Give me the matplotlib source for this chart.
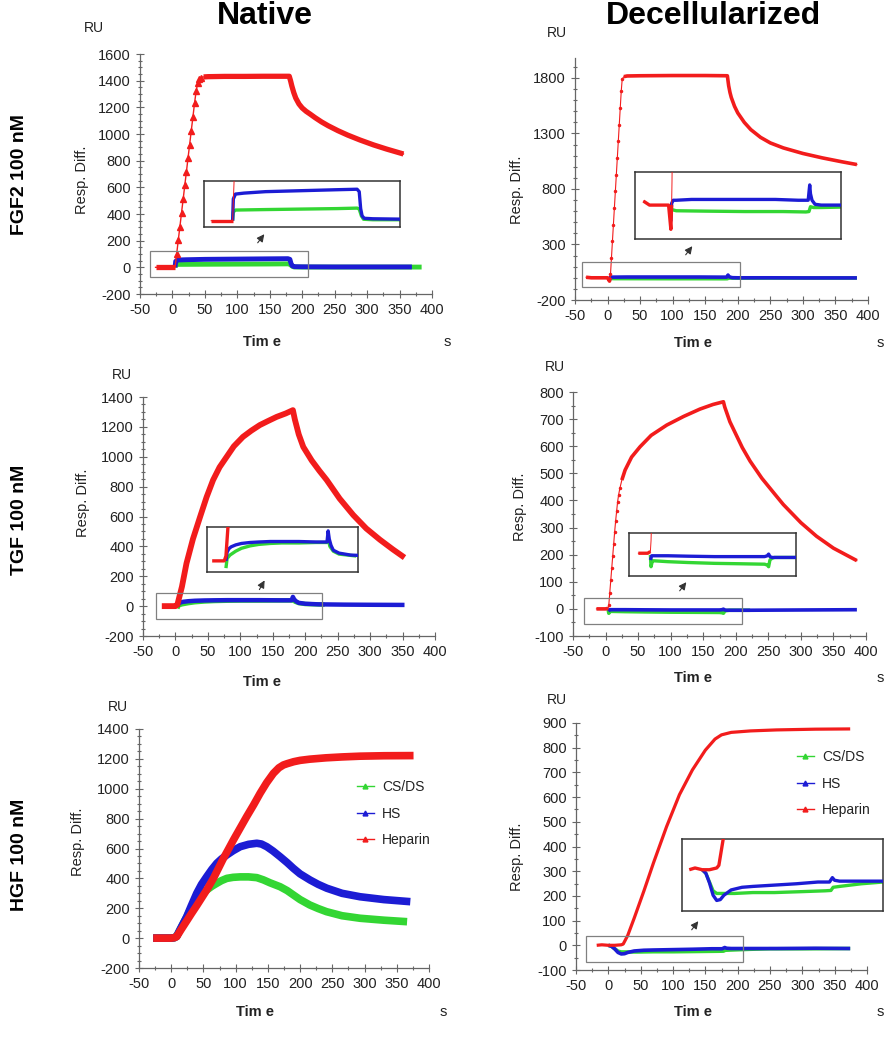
import numpy as np
import matplotlib.pyplot as plt
from matplotlib.patches import Rectangle, FancyArrowPatch
from matplotlib.lines import Line2D
from matplotlib.ticker import MultipleLocator

plt.rcParams['font.family'] = ['Liberation Sans', 'DejaVu Sans']
plt.rcParams['axes.unicode_minus'] = False

W, H = 893, 1050
GREEN, BLUE, RED = '#33d633', '#1c1cd4', '#f21c1c'
labels = ['CS/DS', 'HS', 'Heparin']
row_labels = ['FGF2 100 nM', 'TGF 100 nM', 'HGF 100 nM']
col_titles = ['Native', 'Decellularized']

# ---- FGF2, native ----
fgf_nat_hep_t = [-26, -20, -15, -10, -5, 0, 4, 6.5, 9, 11.5, 14, 16.5, 19, 21.5, 24, 26.5, 29, 31.5, 34,
                 36.5, 39, 41.5, 44, 48, 55, 80, 110, 140, 170, 180, 182, 184, 187, 190, 195, 200, 206,
                 212, 220, 230, 240, 255, 270, 289, 310, 330, 356]
fgf_nat_hep_v = [0, 0, 0, 0, 0, 0, 0, 100, 205, 305, 410, 510, 615, 715, 820, 920, 1025, 1125, 1230,
                 1320, 1385, 1410, 1422, 1428, 1430, 1432, 1432, 1433, 1433, 1433, 1400, 1360, 1310, 1270,
                 1225, 1195, 1170, 1150, 1122, 1090, 1062, 1025, 992, 955, 918, 887, 850]
fgf_nat_hs_t = [4, 5, 8, 20, 50, 100, 150, 178, 181, 183, 185, 188, 200, 250, 300, 369]
fgf_nat_hs_v = [0, 45, 55, 57, 60, 62, 64, 65, 60, 25, 10, 5, 4, 3, 3, 3]
fgf_nat_cs_t = [4, 5, 8, 50, 100, 150, 178, 181, 184, 187, 200, 300, 384]
fgf_nat_cs_v = [0, 18, 22, 23, 24, 25, 26, 24, 10, 3, 2, 2, 2]

# ---- FGF2, decellularized ----
fgf_dec_hep_t = [-33, -25, -15, -5, 0, 3, 4, 4.5, 6, 7.5, 9, 10.5, 12, 13.5, 15, 16.5, 18, 19.5, 21, 22.5,
                 25, 30, 50, 100, 150, 184, 186, 188, 190, 195, 200, 210, 220, 235, 250, 270, 300, 330,
                 360, 383]
fgf_dec_hep_v = [5, 0, 0, 0, 0, -30, 0, 30, 180, 330, 480, 630, 780, 930, 1080, 1230, 1380, 1530, 1680,
                 1790, 1812, 1818, 1820, 1822, 1822, 1820, 1730, 1670, 1625, 1545, 1485, 1400, 1335, 1265,
                 1215, 1170, 1120, 1080, 1045, 1020]
fgf_dec_hs_t = [3, 4, 6, 10, 30, 60, 100, 140, 170, 183, 185, 186, 188, 192, 200, 250, 300, 383]
fgf_dec_hs_v = [-20, 2, 6, 6, 7, 7, 7, 7, 6, 6, 25, 14, 6, 1, 0, 0, -1, -1]
fgf_dec_cs_t = [3, 4, 6, 10, 50, 100, 150, 180, 184, 186, 190, 200, 250, 300, 383]
fgf_dec_cs_v = [-5, -6, -6, -7, -7.5, -8, -8, -8.5, -8, -2, -3, -3, -2, -2, -2]

# ---- TGF, native ----
tgf_nat_hep_t = [-21, -10, 0, 3, 10, 17, 27, 38, 48, 58, 68, 79, 90, 104, 117, 130, 143, 156, 170, 181,
                 184, 190, 197, 210, 222, 233, 253, 274, 294, 315, 335, 353]
tgf_nat_hep_v = [0, 0, 0, 10, 130, 286, 450, 598, 730, 844, 930, 1000, 1070, 1133, 1175, 1212, 1240,
                 1267, 1290, 1312, 1250, 1150, 1066, 975, 905, 845, 720, 610, 520, 445, 380, 325]
tgf_nat_hs_t = [3, 5, 8, 12, 20, 30, 45, 60, 80, 100, 130, 160, 179, 181, 183, 186, 190, 200, 220, 260,
                300, 353]
tgf_nat_hs_v = [0, 18, 25, 29, 33, 36, 38, 39, 40, 40, 40, 39, 39, 62, 45, 32, 22, 16, 12, 10, 9, 8]
tgf_nat_cs_t = [3, 5, 10, 20, 30, 45, 60, 80, 100, 130, 160, 179, 181, 184, 190, 200, 230]
tgf_nat_cs_v = [-15, 5, 12, 20, 26, 31, 34, 36, 37, 37, 38, 38, 45, 30, 20, 14, 10]

# ---- TGF, decellularized ----
tgf_dec_hep_t = [-14, -5, 0, 4, 5, 6.5, 8, 9.5, 11, 12.5, 14, 15.5, 17, 18.5, 20, 22, 25, 30, 40, 53, 70,
                 94, 120, 145, 165, 181, 183, 191, 200, 210, 222, 240, 260, 273, 300, 324, 350, 386]
tgf_dec_hep_v = [0, 0, 0, 2, 15, 60, 105, 150, 195, 240, 285, 325, 360, 395, 420, 445, 475, 512, 560,
                 598, 640, 678, 710, 737, 754, 764, 745, 690, 645, 595, 545, 482, 423, 385, 318, 268, 224,
                 178]
tgf_dec_hs_t = [4, 6, 10, 30, 60, 100, 140, 175, 179, 181, 183, 186, 190, 220, 300, 386]
tgf_dec_hs_v = [-8, -3, -3, -3, -3.5, -4, -4, -4, -3, -1, -4, -5, -5, -5, -4, -3]
tgf_dec_cs_t = [4, 5, 7, 10, 30, 60, 100, 140, 175, 179, 181, 183, 186, 190, 200, 222]
tgf_dec_cs_v = [-2, -16, -9, -9, -10, -11, -12, -12.5, -13, -14, -16, -8, -6, -5, -5, -5]

# ---- HGF, native ----
hgf_nat_hep_t = [-28, -15, 0, 5, 8.5, 15, 24, 31, 39.6, 47, 55, 65.5, 73, 81, 89, 96.5, 107, 117, 128,
                 138, 148, 158.5, 167, 174, 180, 190, 200, 215, 240, 265, 293, 330, 376]
hgf_nat_hep_v = [0, 0, 0, 3, 10, 55, 115, 162, 218, 268, 322, 400, 465, 534, 597, 657, 737, 813, 893,
                 970, 1040, 1103, 1140, 1159, 1168, 1181, 1190, 1198, 1207, 1213, 1218, 1221, 1222]
hgf_nat_hs_t = [-28, -15, 0, 5, 8.5, 14, 24, 31, 39.6, 47, 55, 63, 70.7, 78, 86.3, 96, 107, 120, 132.8,
                140, 148.3, 158, 169, 180, 189.6, 200, 215.5, 228, 241.5, 265, 293, 330, 371]
hgf_nat_hs_v = [0, 0, 0, 3, 12, 60, 143, 215, 300, 360, 411, 460, 501, 530, 557, 585, 612, 628, 635,
                630, 612, 583, 545, 505, 467, 430, 389, 360, 334, 300, 277, 258, 244]
hgf_nat_cs_t = [-28, -15, 0, 5, 8.5, 14, 24, 31, 39.6, 47, 55, 63, 70.7, 78, 86.3, 96, 107, 120, 132.8,
                143, 153.5, 169, 180, 189.6, 200, 215, 228, 241, 265, 293, 330, 366]
hgf_nat_cs_v = [0, 0, 0, 3, 12, 58, 140, 200, 260, 295, 322, 347, 367, 385, 400, 407, 410, 410, 405,
                390, 370, 344, 318, 289, 258, 222, 198, 177, 150, 133, 120, 110]

# ---- HGF, decellularized ----
hgf_dec_hep_t = [-18, -10, 0, 10, 20, 23, 30, 40, 55, 70, 90, 110, 130, 150, 165, 175, 190, 220, 260,
                 320, 374]
hgf_dec_hep_v = [0, 2, 0, 0, 2, 5, 40, 110, 220, 335, 480, 610, 710, 790, 835, 852, 862, 868, 872, 875,
                 876]
hgf_dec_hs_t = [0, 5, 10, 15, 20, 25, 30, 40, 55, 70, 90, 110, 130, 160, 176, 180, 183, 190, 220, 260,
                320, 374]
hgf_dec_hs_v = [0, -4, -15, -29, -35, -34, -29, -23, -20, -19, -18, -17, -16, -14, -14, -9, -12, -13, -13,
                -13, -12, -13]
hgf_dec_cs_t = [0, 5, 10, 15, 20, 25, 30, 45, 70, 100, 136, 170, 178, 181, 190, 220, 250, 300, 374]
hgf_dec_cs_v = [0, -4, -14, -24, -27, -27, -27, -27, -26, -26, -25, -24, -23.6, -20, -19, -16, -14, -14,
                -13]

fig = plt.figure(figsize=(W / 100, H / 100), dpi=100)


def box(x0, x1, ytop, ybot):
    return [x0 / W, 1 - ybot / H, (x1 - x0) / W, (ybot - ytop) / H]


def ftext(x, y, s, **kw):
    fig.text(x / W, 1 - y / H, s, ha=kw.pop('ha', 'center'), va=kw.pop('va', 'center'), **kw)


def main_axes(x0, x1, ytop, ybot, ylim, yticks, yminor):
    ax = fig.add_axes(box(x0, x1, ytop, ybot))
    ax.set_xlim(-50, 400)
    ax.set_ylim(ylim)
    ax.set_xticks(range(-50, 401, 50))
    ax.set_yticks(yticks)
    ax.xaxis.set_minor_locator(MultipleLocator(25))
    ax.yaxis.set_minor_locator(MultipleLocator(yminor))
    for s in ['top', 'right']:
        ax.spines[s].set_visible(False)
    for s in ['left', 'bottom']:
        ax.spines[s].set_color('#666')
        ax.spines[s].set_linewidth(0.9)
    ax.tick_params(which='both', direction='inout', color='#666', labelsize=10.5, labelcolor='#222',
                   width=0.8)
    ax.tick_params(which='major', length=6)
    ax.tick_params(which='minor', length=3.5)
    ax.patch.set_alpha(0)
    return ax


def draw_set(ax, cs, hs, hep, lw, red_lw, rise=None, marker=None, ms=3, rise_lw=0.8):
    ax.plot(cs[0], cs[1], color=GREEN, lw=lw, zorder=2, solid_capstyle='butt')
    ax.plot(hs[0], hs[1], color=BLUE, lw=lw, zorder=3, solid_capstyle='butt')
    t, v = np.asarray(hep[0], float), np.asarray(hep[1], float)
    if rise is None:
        ax.plot(t, v, color=RED, lw=red_lw, zorder=4, solid_capstyle='butt')
        return
    m = (t > rise[0]) & (t < rise[1])
    ax.plot(t, v, color=RED, lw=rise_lw, marker=marker, ms=ms, markevery=list(m), zorder=4)
    ax.plot(t[t <= rise[0]], v[t <= rise[0]], color=RED, lw=red_lw, zorder=4, solid_capstyle='butt')
    ax.plot(t[t >= rise[1]], v[t >= rise[1]], color=RED, lw=red_lw, zorder=4, solid_capstyle='butt')


def inset(bx, xlim, ylim, cs, hs, hep, rise=None, marker=None):
    a = fig.add_axes(box(*bx))
    draw_set(a, cs, hs, hep, 2.4, 2.4, rise, marker, ms=2.5, rise_lw=0.7)
    a.set_xlim(xlim)
    a.set_ylim(ylim)
    a.set_xticks([])
    a.set_yticks([])
    for s in a.spines.values():
        s.set_color('#333')
        s.set_linewidth(1.1)
    a.set_zorder(6)
    return a


def src_rect(ax, x0, x1, y0, y1):
    ax.add_patch(Rectangle((x0, y0), x1 - x0, y1 - y0, fill=False, ec='#808080', lw=0.9,
                           clip_on=False, zorder=5))


def arrow(tail, head):
    fig.add_artist(FancyArrowPatch((tail[0] / W, 1 - tail[1] / H), (head[0] / W, 1 - head[1] / H),
                                   transform=fig.transFigure, arrowstyle='-|>', mutation_scale=11,
                                   color='#333', lw=0.8))


def legend(ax, x, y):
    handles = [Line2D([], [], color=c, lw=1, marker='^', ms=3.5) for c in (GREEN, BLUE, RED)]
    ax.legend(handles, labels, loc='upper left', bbox_to_anchor=(x / W, 1 - y / H),
              bbox_transform=fig.transFigure, frameon=False, fontsize=10, handlelength=1.2,
              handletextpad=0.6, labelspacing=0.9, borderpad=0, borderaxespad=0, labelcolor='#222')


# FGF2 native
ax1 = main_axes(140, 432, 54, 294, (-200, 1600), range(-200, 1601, 200), 50)
fn = ((fgf_nat_cs_t, fgf_nat_cs_v), (fgf_nat_hs_t, fgf_nat_hs_v), (fgf_nat_hep_t, fgf_nat_hep_v))
draw_set(ax1, *fn, lw=3.5, red_lw=3.8, rise=(4, 46), marker='^', ms=4.5, rise_lw=1.0)
src_rect(ax1, -34, 209, -70, 125)
inset((204, 400, 181, 227), (-36, 238), (-13, 82), *fn, rise=(4, 46))
arrow((256, 245), (266, 232))

# FGF2 decellularized
ax2 = main_axes(575, 868, 58, 300, (-200, 1980), [-200, 300, 800, 1300, 1800], 100)
fd = ((fgf_dec_cs_t, fgf_dec_cs_v), (fgf_dec_hs_t, fgf_dec_hs_v), (fgf_dec_hep_t, fgf_dec_hep_v))
draw_set(ax2, *fd, lw=2.6, red_lw=2.6, rise=(4, 23), marker='.', ms=3, rise_lw=0.8)
src_rect(ax2, -39, 204, -85, 140)
inset((635, 841, 172, 239), (-44, 226), (-42, 41), *fd, rise=(4, 23))
arrow((684, 257), (694, 244))

# TGF native
ax3 = main_axes(143, 435, 397, 636, (-200, 1400), range(-200, 1401, 200), 50)
tn = ((tgf_nat_cs_t, tgf_nat_cs_v), (tgf_nat_hs_t, tgf_nat_hs_v), (tgf_nat_hep_t, tgf_nat_hep_v))
draw_set(ax3, *tn, lw=3.2, red_lw=4.2)
src_rect(ax3, -29.5, 226, -87, 90)
inset((207, 358, 527, 572), (-30, 233), (-23, 70), *tn)
arrow((258, 592), (266, 578))

# TGF decellularized
ax4 = main_axes(573, 866, 392, 636, (-100, 800), range(-100, 801, 100), 50)
td = ((tgf_dec_cs_t, tgf_dec_cs_v), (tgf_dec_hs_t, tgf_dec_hs_v), (tgf_dec_hep_t, tgf_dec_hep_v))
draw_set(ax4, *td, lw=2.6, red_lw=2.6, rise=(4, 23), marker='.', ms=3, rise_lw=0.8)
src_rect(ax4, -33, 209, -57, 41)
inset((629, 796, 533, 576), (-28, 222), (-27, 24), *td, rise=(4, 23))
arrow((678, 593), (688, 580))

# HGF native
ax5 = main_axes(139, 429, 729, 968, (-200, 1400), range(-200, 1401, 200), 50)
hn = ((hgf_nat_cs_t, hgf_nat_cs_v), (hgf_nat_hs_t, hgf_nat_hs_v), (hgf_nat_hep_t, hgf_nat_hep_v))
draw_set(ax5, *hn, lw=5.5, red_lw=5.5)
legend(ax5, 357, 780)

# HGF decellularized
ax6 = main_axes(576, 867, 723, 970, (-100, 900), range(-100, 901, 100), 50)
hd = ((hgf_dec_cs_t, hgf_dec_cs_v), (hgf_dec_hs_t, hgf_dec_hs_v), (hgf_dec_hep_t, hgf_dec_hep_v))
draw_set(ax6, *hd, lw=2.6, red_lw=2.3)
src_rect(ax6, -34.5, 208, -66, 38)
inset((682, 883, 839, 911), (-28, 250), (-47, 35), *hd)
arrow((690, 932), (700, 919))
legend(ax6, 797, 750)

# text labels
ftext(265, 16, col_titles[0], fontsize=23, fontweight='bold')
ftext(713, 16, col_titles[1], fontsize=23, fontweight='bold')
for y, s in zip([175, 520, 855], row_labels):
    ftext(20, y, s, fontsize=14, fontweight='bold', rotation=90)

for x, y in [(94, 28), (557, 33), (122, 375), (555, 367), (118, 707), (557, 700)]:
    ftext(x, y, 'RU', fontsize=10, color='#222')
for x, y in [(82, 180), (517, 190), (83, 503), (520, 507), (78, 842), (517, 857)]:
    ftext(x, y, 'Resp. Diff.', fontsize=10.5, rotation=90, color='#222')
for x, y in [(262, 342), (693, 343), (262, 682), (693, 678), (255, 1012), (693, 1012)]:
    ftext(x, y, 'Tim e', fontsize=10.5, fontweight='bold', color='#222')
for x, y in [(447, 342), (880, 343), (880, 678), (443, 1012), (880, 1012)]:
    ftext(x, y, 's', fontsize=10.5, color='#222')

plt.savefig('out.png', dpi=100)
